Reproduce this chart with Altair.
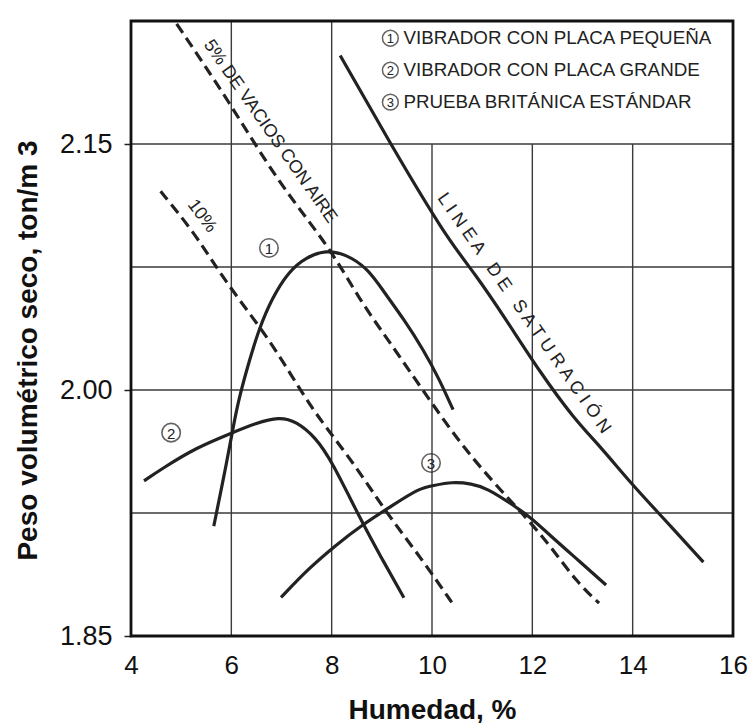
import altair as alt
import pandas as pd

# Moisture content (%) and dry unit weight (ton/m3) of each compaction curve
c1_x = [5.65, 5.91, 6.04, 6.16, 6.36, 6.55, 6.81, 7.15, 7.49, 7.89, 8.27, 8.72, 9.05, 9.44, 9.83, 10.13, 10.42]
c1_y = [1.917, 1.956, 1.978, 1.996, 2.018, 2.037, 2.056, 2.0725, 2.081, 2.0853, 2.083, 2.0743, 2.0594, 2.0431, 2.0244, 2.0075, 1.988]

c2_x = [4.26, 4.65, 5.30, 5.96, 6.50, 6.95, 7.29, 7.68, 8.00, 8.58, 8.97, 9.44]
c2_y = [1.9446, 1.9527, 1.9648, 1.9732, 1.9799, 1.9836, 1.981, 1.9711, 1.9568, 1.9208, 1.8988, 1.8733]

c3_x = [6.99, 7.54, 8.08, 8.58, 9.24, 9.74, 10.02, 10.40, 10.79, 11.10, 11.56, 11.96, 12.35, 12.96, 13.47]
c3_y = [1.8735, 1.8912, 1.9053, 1.9172, 1.9302, 1.940, 1.9417, 1.944, 1.9429, 1.940, 1.931, 1.9226, 1.9114, 1.895, 1.8811]

# Saturation line (zero air voids)
sat_x = [8.17, 9.11, 10.27, 10.85, 11.48, 12.14, 12.82, 13.37, 13.98, 14.59, 15.41]
sat_y = [2.204, 2.1533, 2.0936, 2.0713, 2.0428, 2.0114, 1.9829, 1.965, 1.9426, 1.9226, 1.895]

# Lines of 5 % and 10 % air voids
v5_x = [4.91, 5.96, 6.95, 7.94, 8.58, 9.11, 9.88, 10.65, 11.41, 11.87, 12.35, 12.88, 13.33]
v5_y = [2.2233, 2.1757, 2.1257, 2.0881, 2.0538, 2.0313, 1.997, 1.9637, 1.9375, 1.9224, 1.9053, 1.883, 1.870]

v10_x = [4.59, 5.24, 5.67, 6.16, 6.69, 7.15, 7.60, 8.08, 8.52, 9.11, 9.82, 10.44]
v10_y = [2.1212, 2.0967, 2.0761, 2.0548, 2.0334, 2.0114, 1.989, 1.9696, 1.9516, 1.9244, 1.896, 1.8684]

curve_names = ["VIBRADOR CON PLACA PEQUEÑA", "VIBRADOR CON PLACA GRANDE", "PRUEBA BRITÁNICA ESTÁNDAR"]
curve_tags = ["1", "2", "3"]
tag_x = [6.75, 4.80, 9.98]
tag_y = [2.0866, 1.974, 1.9555]

GAP = "\u00a0\u00a0\u00a0"
line_labels = ["5% DE VACIOS CON AIRE", "10%",
               "L I N E A" + GAP + "D E" + GAP + "S A T U R A C I Ó N"]
line_label_x = [6.77, 5.41, 11.83]
line_label_y = [2.1576, 2.106, 2.0467]
line_label_angle = [55, 53, 55]

x_lim = [4, 16]
y_lim = [1.85, 2.225]
# Vertical grid lines stop under the legend block in the upper right
grid_x = [6, 8, 10, 12, 14]
grid_x_top = [2.225, 2.225, 2.15, 2.15, 2.15]
grid_y = [1.925, 2.0, 2.075, 2.15]
x_ticks = [4, 6, 8, 10, 12, 14, 16]
y_ticks = [1.85, 2.0, 2.15]

# Legend rows (upper right block)
legend_y = [2.2145, 2.195, 2.1755]
legend_circle_x = 9.17
legend_text_x = 9.43

FONT = "Liberation Sans"
INK = "#222222"

xs = alt.Scale(domain=x_lim, nice=False, zero=False)
ys = alt.Scale(domain=y_lim, nice=False, zero=False)

x_axis = alt.Axis(values=x_ticks, grid=False, ticks=False, domain=False, labelFlush=False,
                  labelFont=FONT, labelFontSize=26, labelColor="#111", labelPadding=16,
                  title="Humedad, %", titleFont=FONT, titleFontSize=28, titleFontWeight="bold",
                  titleColor="#111", titleY=82, titleBaseline="alphabetic")
y_axis = alt.Axis(values=y_ticks, format=".2f", grid=False, ticks=True, tickSize=7, tickWidth=1.5,
                  tickColor="#222", domain=False, labelFont=FONT, labelFontSize=27, labelColor="#111",
                  labelPadding=12, title="Peso volumétrico seco, ton/m 3", titleFont=FONT,
                  titleFontSize=28, titleFontWeight="bold", titleColor="#111", titleAngle=270,
                  titleX=-103, titleY=329, titleAlign="center", titleBaseline="middle")


def X(field="x"):
    return alt.X(f"{field}:Q", scale=xs, axis=x_axis)


def Y(field="y"):
    return alt.Y(f"{field}:Q", scale=ys, axis=y_axis)


def series(xv, yv, name):
    return pd.DataFrame({"x": xv, "y": yv, "serie": name, "i": range(len(xv))})


vgrid = alt.Chart(pd.DataFrame({"x": grid_x, "y": [y_lim[0]] * len(grid_x), "y2": grid_x_top})).mark_rule(
    color="#3a3a3a", strokeWidth=1.4
).encode(x=X(), y=Y(), y2="y2:Q")
hgrid = alt.Chart(pd.DataFrame({"y": grid_y})).mark_rule(color="#3a3a3a", strokeWidth=1.4).encode(y=Y())

# Heavy frame around the plot: an unfilled box over the full domain
frame = alt.Chart(pd.DataFrame({"x": [x_lim[0]], "x2": [x_lim[1]], "y": [y_lim[0]], "y2": [y_lim[1]]})).mark_rect(
    fill=None, stroke="#111", strokeWidth=2.8
).encode(x=X(), x2="x2:Q", y=Y(), y2="y2:Q")

solid = pd.concat([
    series(c1_x, c1_y, "1"),
    series(c2_x, c2_y, "2"),
    series(c3_x, c3_y, "3"),
    series(sat_x, sat_y, "sat"),
])
dashed = pd.concat([
    series(v5_x, v5_y, "5"),
    series(v10_x, v10_y, "10"),
])

solid_lines = alt.Chart(solid).mark_line(color=INK, strokeWidth=3.2, interpolate="basis").encode(
    x=X(), y=Y(), detail="serie:N", order="i:Q"
)
dashed_lines = alt.Chart(dashed).mark_line(color=INK, strokeWidth=3.2, strokeDash=[11, 6],
                                           interpolate="basis").encode(
    x=X(), y=Y(), detail="serie:N", order="i:Q"
)

tags = pd.DataFrame({"x": tag_x, "y": tag_y, "tag": curve_tags})
tag_rings = alt.Chart(tags).mark_point(shape="circle", filled=False, size=340, color=INK,
                                       strokeWidth=1.6).encode(x=X(), y=Y())
tag_text = alt.Chart(tags).mark_text(font=FONT, fontSize=15, color=INK, dy=1).encode(
    x=X(), y=Y(), text="tag:N"
)

legend = pd.DataFrame({"xc": [legend_circle_x] * 3, "xt": [legend_text_x] * 3, "y": legend_y,
                       "tag": curve_tags, "name": curve_names})
legend_rings = alt.Chart(legend).mark_point(shape="circle", filled=False, size=250, color=INK,
                                            strokeWidth=1.5).encode(x=X("xc"), y=Y())
legend_tags = alt.Chart(legend).mark_text(font=FONT, fontSize=13, color=INK, dy=1).encode(
    x=X("xc"), y=Y(), text="tag:N"
)
legend_text = alt.Chart(legend).mark_text(font=FONT, fontSize=18.8, color=INK, align="left",
                                          baseline="middle").encode(
    x=X("xt"), y=Y(), text="name:N"
)

labels = pd.DataFrame({"x": line_label_x, "y": line_label_y, "label": line_labels,
                       "ang": line_label_angle})
line_text = alt.Chart(labels).mark_text(font=FONT, fontSize=18, color=INK, align="center",
                                        baseline="middle").encode(
    x=X(), y=Y(), text="label:N", angle=alt.Angle("ang:Q", scale=None)
)

chart = alt.layer(
    vgrid, hgrid, solid_lines, dashed_lines, tag_rings, tag_text,
    legend_rings, legend_tags, legend_text, line_text, frame
).properties(
    width=602, height=615,
    autosize=alt.AutoSizeParams(type="none"),
    padding={"left": 131, "top": 21, "right": 15, "bottom": 87},
    background="white",
).configure_view(stroke=None)

chart.save("out.html", embed_options={"renderer": "svg", "actions": False})
